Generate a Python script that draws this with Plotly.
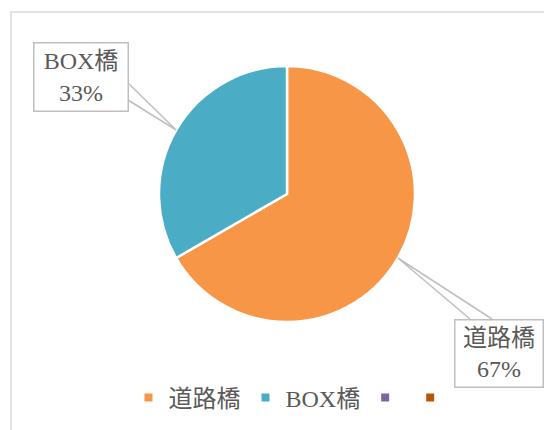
import math
import plotly.graph_objects as go

# ---- data ----
categories = ["道路橋", "BOX橋"]
values = [2, 1]
slice_colors = ["#F79646", "#4BACC6"]
legend_names = ["道路橋", "BOX橋", "", ""]
legend_colors = ["#F79646", "#4BACC6", "#8064A2", "#B65708"]

W, H = 552, 430
OFF = 8  # page body margin
FONT = "'Liberation Serif', 'DejaVu Serif', 'Noto Sans CJK JP', serif"
TXT = "#595959"
LINE = "#BFBFBF"


def X(px):
    return (px - OFF) / W


def Y(py):
    return 1 - (py - OFF) / H


cx, cy, r = 287, 194, 128

fig = go.Figure()
fig.add_trace(go.Pie(
    labels=categories, values=values, sort=False, direction="clockwise", rotation=0,
    marker=dict(colors=slice_colors, line=dict(color="white", width=2.5)),
    textinfo="none", hoverinfo="label+percent", showlegend=False,
    domain=dict(x=[X(cx - r), X(cx + r)], y=[Y(cy + r), Y(cy - r)]),
))

for n, c in zip(legend_names, legend_colors):
    fig.add_trace(go.Scatter(x=[None], y=[None], mode="markers", name=n, showlegend=True,
                             marker=dict(symbol="square", size=8, color=c)))

boxes = {
    "BOX橋": dict(c=(80.5, 77.5), w=93, h=67, base=[(128, 83), (128, 100)]),
    "道路橋": dict(c=(498.5, 353), w=87, h=66, base=[(470, 319), (492, 319)]),
}

total = sum(values)
cum = 0
shapes = [dict(type="rect", xref="paper", yref="paper", x0=X(11), y0=Y(12), x1=X(W + 20), y1=Y(H + 20),
               line=dict(color="#D9D9D9", width=1.5), layer="below")]
annotations = []
for lab, v in zip(categories, values):
    th = 2 * math.pi * (cum + v / 2) / total
    cum += v
    px, py = cx + r * math.sin(th), cy - r * math.cos(th)
    b = boxes[lab]
    (ax1, ay1), (ax2, ay2) = b["base"]
    shapes.append(dict(type="path", xref="paper", yref="paper",
                       path=f"M {X(ax1)} {Y(ay1)} L {X(px)} {Y(py)} L {X(ax2)} {Y(ay2)}",
                       line=dict(color=LINE, width=1.5)))
    pct = round(100 * v / total)
    annotations.append(dict(
        xref="paper", yref="paper", x=X(b["c"][0]), y=Y(b["c"][1]), xanchor="center", yanchor="middle",
        text=f"{lab}<br>{pct}%", showarrow=False, width=b["w"], height=b["h"],
        bordercolor=LINE, borderwidth=1.5, borderpad=0, bgcolor="white",
        font=dict(family=FONT, size=24, color=TXT), align="center", valign="middle"))

fig.update_layout(
    width=W, height=H, margin=dict(l=0, r=0, t=0, b=0),
    paper_bgcolor="white", plot_bgcolor="white",
    xaxis=dict(visible=False), yaxis=dict(visible=False),
    shapes=shapes, annotations=annotations,
    legend=dict(orientation="h", x=X(292), xanchor="center", y=Y(398), yanchor="middle",
                font=dict(family=FONT, size=24, color=TXT), itemwidth=30, tracegroupgap=0,
                bgcolor="rgba(0,0,0,0)"),
    font=dict(family=FONT, color=TXT),
)

fig.write_html("out.html")
